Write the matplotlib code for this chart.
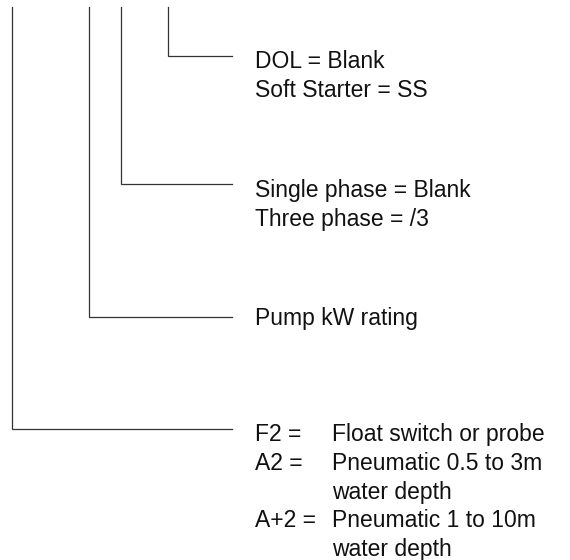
import matplotlib.pyplot as plt

# 引出线的竖线位置（像素）、横线高度和对应说明
stem_x = [168, 121, 89, 12]
branch_y = [56, 184, 317, 429]
labels = [
    ["DOL = Blank", "Soft Starter = SS"],
    ["Single phase = Blank", "Three phase = /3"],
    ["Pump kW rating"],
]
codes = ["F2 =", "A2 =", "", "A+2 =", ""]
code_text = ["Float switch or probe", "Pneumatic 0.5 to 3m", "water depth",
             "Pneumatic 1 to 10m", "water depth"]

line_end = 232
text_x = 255
desc_x = 332
top = 7
step = 28.8
base_off = [12.5, 13, 8.5, 12]   # 文字基线相对横线的偏移

fig = plt.figure(figsize=(5.7, 5.6), dpi=100)
ax = fig.add_axes([0, 0, 1, 1])
ax.set_xlim(0, 570)
ax.set_ylim(560, 0)
ax.axis('off')

for x, y in zip(stem_x, branch_y):
    ax.plot([x, x, line_end], [top, y, y], color='#333333', lw=0.9,
            solid_joinstyle='miter')

kw = dict(fontsize=16.5, family='Liberation Sans', color='#111111', va='baseline')
for y, off, lines in zip(branch_y, base_off, labels):
    for i, s in enumerate(lines):
        ax.text(text_x, y + off + i * step, s, **kw)

y0 = branch_y[3] + base_off[3]
for i, (c, s) in enumerate(zip(codes, code_text)):
    if c:
        ax.text(text_x, y0 + i * step, c, **kw)
    ax.text(desc_x, y0 + i * step, s, **kw)

fig.savefig('out.png', dpi=100)
